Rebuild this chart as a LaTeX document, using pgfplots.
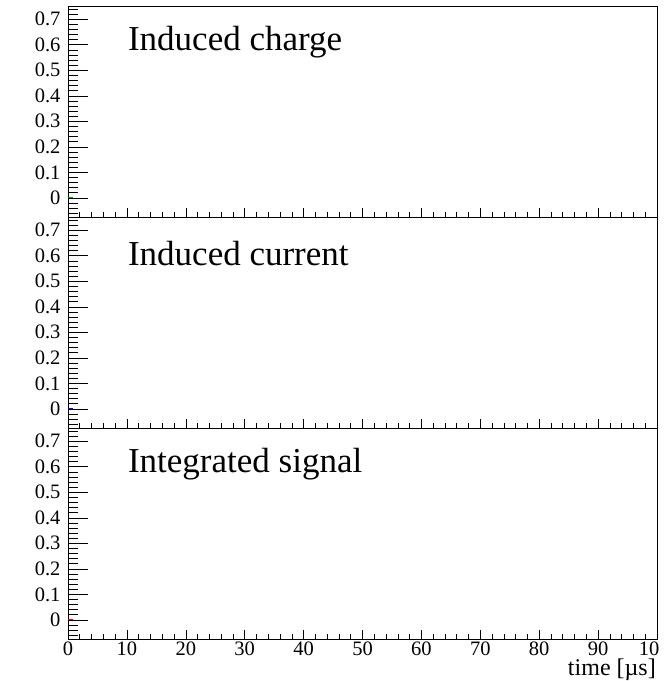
\documentclass[border=0pt]{standalone}
\usepackage{pgfplots}
\pgfplotsset{compat=1.18}
\usepackage{fontspec}
\setmainfont{Liberation Serif}
\tikzset{ttl/.style={anchor=base west, font=\fontsize{35}{42}\selectfont}}
\pgfplotsset{
  panel/.style={scale only axis, width=589pt, height=211pt, anchor=south west,
    xmin=0, xmax=100, ymin=-0.075, ymax=0.752,
    tick align=inside, tick pos=left,
    axis line style={line width=0.9pt}, tick style={black, line width=0.6pt},
    clip=false},
  ypanel/.style={panel, xtick=\empty,
    ytick={0,0.1,0.2,0.3,0.4,0.5,0.6,0.7},
    minor ytick={-0.06,-0.04,-0.02,0.02,0.04,0.06,0.08,0.12,0.14,0.16,0.18,0.22,0.24,0.26,0.28,0.32,0.34,0.36,0.38,0.42,0.44,0.46,0.48,0.52,0.54,0.56,0.58,0.62,0.64,0.66,0.68,0.72,0.74},
    major tick length=20pt, minor tick length=10pt,
    yticklabel style={font=\fontsize{20.5}{24}\selectfont, xshift=-4pt,
      /pgf/number format/fixed, /pgf/number format/precision=1,
      /pgf/number format/assume math mode=true}},
  xpanel/.style={panel, ytick=\empty,
    xtick={0,10,20,30,40,50,60,70,80,90,100}, minor x tick num=4,
    major tick length=9pt, minor tick length=5pt,
    axis line style={draw=none}},
}
\begin{document}
\begin{tikzpicture}
\useasboundingbox (0,0) rectangle (667pt,681pt);
% ---------- panel 1 ----------
\begin{axis}[ypanel, at={(68pt,464pt)}]
  \addplot[green!60!black, line width=0.8pt] coordinates {(0,0) (0.8,0)};
  \node[ttl] at (rel axis cs:0.096,0.79) {Induced charge};
\end{axis}
\begin{axis}[xpanel, at={(68pt,464pt)}, xticklabels={}]
\end{axis}
% ---------- panel 2 ----------
\begin{axis}[ypanel, at={(68pt,253pt)}]
  \addplot[blue, line width=0.8pt] coordinates {(0,0) (0.8,0)};
  \node[ttl] at (rel axis cs:0.096,0.77) {Induced current};
\end{axis}
\begin{axis}[xpanel, at={(68pt,253pt)}, xticklabels={}]
\end{axis}
% ---------- panel 3 ----------
\begin{axis}[ypanel, at={(68pt,42pt)}]
  \addplot[red, line width=0.8pt] coordinates {(0,0) (0.8,0)};
  \node[ttl] at (rel axis cs:0.096,0.79) {Integrated signal};
\end{axis}
\begin{axis}[xpanel, at={(68pt,42pt)},
  xticklabels={0,10,20,30,40,50,60,70,80,90,{\hspace*{-16pt}10}},
  xticklabel style={font=\fontsize{20.5}{24}\selectfont, inner sep=1pt, yshift=-2pt},
  xlabel={time [µs]},
  xlabel style={at={(rel axis cs:1,0)}, anchor=base east, yshift=-36pt,
    inner sep=1pt, font=\fontsize{24}{28}\selectfont}]
\end{axis}
\end{tikzpicture}
\end{document}
